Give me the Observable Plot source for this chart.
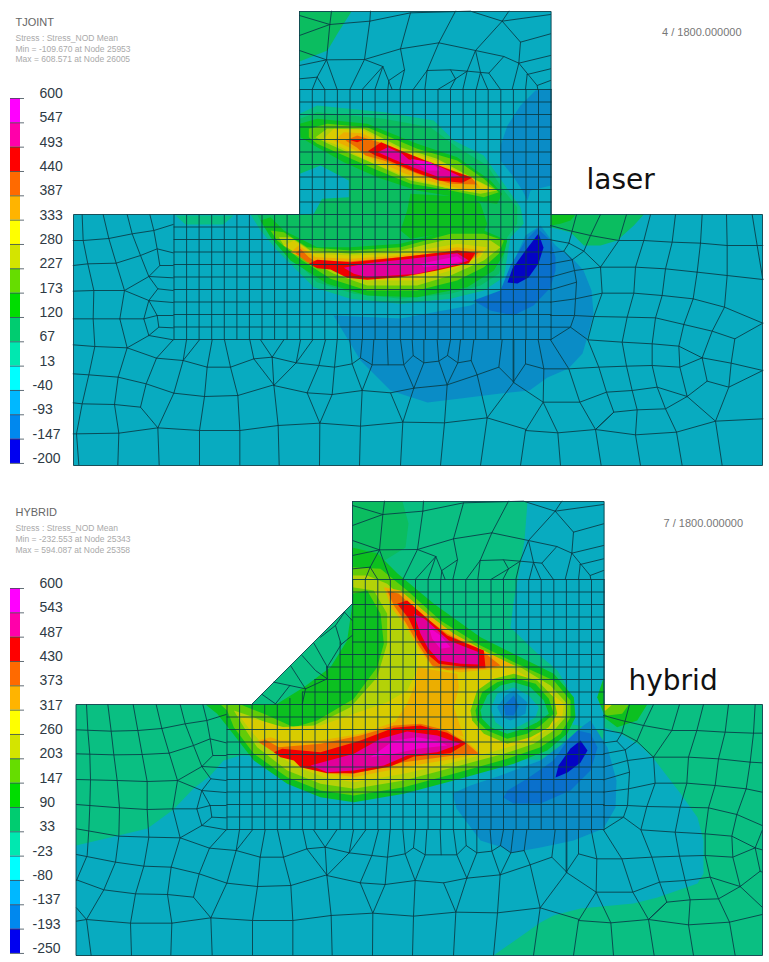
<!DOCTYPE html>
<html>
<head>
<meta charset="utf-8">
<style>html,body{margin:0;padding:0;background:#fff}svg{display:block}</style>
<script src="https://cdn.jsdelivr.net/npm/d3@7"></script>
<script src="https://cdn.jsdelivr.net/npm/@observablehq/plot@0.6"></script>
</head>
<body>
<div id="chart"></div>
<script>
// ---- readings (picture units; crops are read at 3x from a known corner) ----
const z = (ox, oy) => pts => pts.map(([a, b]) => [ox + a / 3, oy + b / 3]);
const z2 = z(0, 240), z3 = z(250, 90), z5 = z(0, 730), z6 = z(220, 570), z7 = z(270, 0), z9 = z(500, 200), z10 = z(260, 330), z11 = z(540, 690);

const laserScale = [600,547,493,440,387,333,280,227,173,120,67,13,-40,-93,-147,-200];
const hybridScale = [600,543,487,430,373,317,260,203,147,90,33,-23,-80,-137,-193,-250];
const legendColors = ["#ff00ff","#ff00aa","#ff0000","#ff6a00","#ffb400","#ffff00","#d4e400","#66dd00","#00dd00","#00cc70","#00e8b0","#00ffff","#00b8ff","#0088ee","#0000f0"];
const fieldColors = ["#0404c4","#0a70cc","#0a8cc6","#08abc0","#0abf82","#0bbd60","#0cc020","#62cc08","#b4d208","#d8cc00","#ecae00","#ee6c00","#f00000","#e2009a","#f000c8"];

const gridX = [173.5,186.1,198.6,211.2,223.8,236.4,248.9,261.5,274.1,286.6,299.2,311.8,324.3,336.9,349.5,362,374.6,387.2,399.8,412.3,424.9,437.5,450,462.6,475.2,487.7,500.3,512.9,525.5,538,550.6];
const gridY = [89,101.5,114,126.5,139,151.5,164,176.5,189,201.5,214,226.5,239,251.5,264,276.5,289,301.5,314,326.5,339];
const hybridColumnTop = [704,704,704,704,704,698,691.5,679,666.5,641.5];
const hybridRowLeft = {641.5:352,654:339.6,666.5:327,679:314.4,691.5:302};

const laserOutline = [[299,11],[550.6,11],[550.6,214],[762,214],[762,465],[73,465],[73,214],[299,214]];
const hybridOutline = [[352,501],[603.6,501],[603.6,704],[762,704],[762,955],[75.5,955],[75.5,704],[251,704],[352,603]];

const stemMesh = [[[87,45],[178,72],[183,32]],[[87,105],[178,72]],[[178,72],[298,62],[420,37],[600,32],[695,62],[840,42]],[[298,62],[300,32]],[[298,62],[282,177]],[[420,37],[390,145]],[[555,32],[505,127]],[[695,62],[715,32]],[[695,62],[615,150]],[[695,62],[750,125],[840,100]],[[750,125],[745,188],[840,165]],[[87,150],[168,178],[178,72]],[[87,195],[168,178],[282,177],[390,145],[505,127],[615,150],[700,168],[745,188]],[[168,178],[140,230],[125,267]],[[168,178],[200,267]],[[140,230],[87,235]],[[140,230],[163,267]],[[282,177],[238,267]],[[282,177],[337,198],[275,267]],[[337,198],[365,267]],[[337,198],[313,267]],[[390,145],[402,208],[355,240],[352,267]],[[402,208],[388,267]],[[505,127],[470,210],[428,267]],[[470,210],[463,267]],[[470,210],[540,208],[590,212],[655,218],[700,168]],[[540,208],[555,235],[502,267]],[[555,235],[538,267]],[[555,235],[590,212],[615,150]],[[590,212],[577,267]],[[615,150],[630,216],[617,267]],[[630,216],[652,267]],[[655,218],[690,267]],[[745,188],[725,267]],[[745,188],[800,255],[802,267]],[[770,222],[765,267]],[[770,222],[840,205]],[[800,255],[840,240]]].map(z7);

const coreLeftMesh = [[[308,-78],[325,-6],[347,68],[372,150],[358,235],[380,322],[353,410],[342,492],[355,578],[352,673]],[[380,-78],[395,-20],[420,45],[445,108],[472,145],[518,150]],[[448,-78],[460,-30],[470,25],[478,75],[518,75]],[[518,-48],[460,-30],[395,-20],[325,-6]],[[347,68],[420,45],[470,25],[518,37]],[[372,150],[445,108],[478,75]],[[445,108],[518,112]],[[372,150],[445,180],[518,186]],[[472,145],[445,180],[430,235],[445,285],[380,322]],[[430,235],[470,225],[445,180]],[[470,225],[518,225]],[[470,225],[475,260],[445,285]],[[475,260],[518,262]],[[445,285],[518,298]],[[358,235],[430,235]],[[380,322],[468,353],[548,360],[620,380],[690,380],[760,355],[815,350]],[[468,353],[518,298]],[[548,360],[558,298]],[[548,360],[597,298]],[[620,380],[635,298]],[[690,380],[672,298]],[[760,355],[748,298]],[[353,410],[437,430],[520,458],[612,468],[712,465],[820,433]],[[468,353],[437,430],[420,500],[472,562]],[[342,492],[420,500]],[[520,458],[548,360]],[[520,458],[472,562]],[[612,468],[620,380]],[[690,380],[712,465]],[[760,355],[820,433]],[[355,578],[472,562],[597,570],[718,570],[833,555]],[[612,468],[597,570],[597,673]],[[712,465],[718,570],[718,673]],[[820,433],[833,555],[836,673]],[[472,562],[476,673]]].map(z2);

const coreBottomMesh = [[[35,80],[107,97],[175,105],[222,110],[275,100],[300,82],[335,103],[383,103],[430,103],[458,75],[490,97],[535,92],[561,75],[592,97],[632,90],[650,133]],[[35,80],[40,165]],[[35,80],[70,28]],[[35,80],[0,28]],[[107,97],[120,28]],[[107,97],[157,28]],[[107,97],[40,165]],[[140,187],[175,105],[195,28]],[[215,192],[222,110],[230,28]],[[305,180],[275,100],[268,28]],[[305,180],[335,103],[340,28]],[[300,82],[305,28]],[[383,103],[380,28]],[[460,173],[430,103],[420,28]],[[460,173],[490,97],[490,28]],[[458,75],[455,28]],[[560,163],[535,92],[530,28]],[[561,75],[570,28]],[[560,163],[592,97],[600,28]],[[632,90],[640,28]],[[715,110],[725,28]],[[760,155],[760,28]],[[40,165],[140,187],[215,192],[305,180],[390,187],[460,173],[560,163],[650,133],[715,110],[760,155],[680,262]],[[650,133],[680,262]],[[140,187],[178,278],[215,192]],[[390,187],[427,275],[460,173]],[[305,180],[300,287],[297,405]],[[178,278],[177,405]],[[427,275],[420,405]],[[52,285],[178,278],[300,287],[427,275],[552,277],[680,262],[797,297]],[[560,163],[552,277],[540,405]],[[680,262],[660,405]]].map(z10);

const coreRightMesh = [[[150,75],[205,90],[270,105],[355,120],[430,120],[515,125],[600,128]],[[228,42],[205,128],[190,152],[215,178],[250,152],[205,128]],[[300,42],[270,105],[250,152],[300,200]],[[378,42],[355,120],[300,200]],[[300,200],[405,200],[495,205],[590,215]],[[150,118],[205,128]],[[150,157],[190,152]],[[150,190],[215,178]],[[150,230],[222,210],[300,200]],[[150,268],[228,245]],[[150,305],[225,295],[305,278],[400,278],[485,285],[578,295]],[[215,178],[222,210],[228,245],[225,295],[222,345],[210,380],[150,418]],[[150,345],[222,345],[280,348],[380,350],[465,352],[550,372]],[[150,380],[210,380],[262,418],[365,425],[455,430],[535,437],[605,472]],[[300,200],[305,278],[280,348],[262,418],[295,500],[318,575],[340,635],[285,687]],[[150,418],[205,505],[238,605],[285,687]],[[450,42],[430,120],[405,200],[400,278],[380,350],[365,425],[378,497],[395,570],[410,628],[405,703],[420,795]],[[525,42],[515,125],[495,205],[485,285],[465,352],[455,430],[455,495],[470,560],[495,625],[528,695],[545,795]],[[605,42],[600,128],[590,215],[578,295],[550,372],[535,437],[538,500],[560,588]],[[113,418],[130,505],[128,605],[75,690],[60,795]],[[75,418],[75,490],[38,545],[38,418]],[[75,490],[130,505],[205,505],[295,500],[378,497],[455,495],[538,500],[605,472]],[[38,545],[128,605],[238,605],[318,575],[395,570],[470,560],[560,588]],[[128,605],[172,697],[180,795]],[[75,690],[172,697],[285,687],[405,703],[528,695]],[[285,687],[302,795]],[[285,687],[340,635],[410,628],[495,625],[560,588]],[[605,472],[620,542],[560,588]]].map(z9);

const laserRightMesh = [[[600,128],[680,135],[787,135]],[[590,215],[680,225],[787,237]],[[578,295],[672,320],[787,368]],[[550,372],[635,392],[703,415],[787,368]],[[605,472],[692,488],[787,510]],[[678,42],[680,135],[680,225],[672,320],[635,392],[605,472]],[[755,42],[770,135],[787,237]],[[703,415],[692,488],[685,560],[645,662],[665,795]],[[620,542],[685,560],[787,510]],[[560,588],[645,662]],[[528,695],[645,662],[787,655]]].map(z9);
const hybridRightMesh = [[[639,128],[665,128]],[[629,215],[665,217]],[[617,295],[665,305]],[[589,372],[665,405]],[[644,472],[665,478]],[[659,542],[665,545]],[[599,588],[665,650]],[[567,695],[665,672]],[[665,420],[644,472]]].map(z11);

const laserLeftMesh = [[[245,-77],[248,0],[262,70],[280,150],[278,235],[283,318],[265,403],[245,490],[228,580],[235,673]],[[325,-6],[248,0],[218,0]],[[347,68],[262,70],[218,75]],[[372,150],[280,150],[218,152]],[[358,235],[278,235],[218,235]],[[380,322],[283,318],[218,313]],[[353,410],[265,403],[218,400]],[[342,492],[245,490],[218,487]],[[355,578],[228,580],[218,580]]].map(z2);
const hybridLeftMesh = [[[258,-78],[262,0],[268,72],[270,147],[268,225],[265,297],[260,375],[228,450]],[[322,-78],[332,2],[340,73],[350,150],[357,232],[355,317],[345,395],[310,478],[258,567],[272,675]],[[398,-78],[412,0],[425,72],[440,153],[440,237],[445,320],[430,407],[405,490],[390,578],[393,675]],[[484,-6],[412,0],[332,2],[228,-2]],[[506,68],[425,72],[340,73],[228,70]],[[531,150],[440,153],[350,150],[228,147]],[[517,235],[440,237],[357,232],[228,222]],[[539,322],[445,320],[355,317],[228,295]],[[512,410],[430,407],[345,395],[228,372]],[[501,492],[405,490],[310,478],[228,448]],[[514,578],[390,578],[258,567],[228,572]],[[228,532],[258,567]]].map(z5);
const hybridChamferMesh = [[[372,125],[345,165],[362,222],[320,290]],[[395,150],[372,125]],[[395,195],[362,222]],[[280,218],[318,285],[320,325],[255,355],[208,345],[165,400]],[[245,255],[285,300],[320,325]],[[210,285],[255,355]],[[160,335],[208,345]],[[125,372],[165,400]],[[345,165],[300,200]],[[255,355],[245,402]]].map(z6);

const shift = ([x, y]) => [x + 53, y + 490];

// ---- contour bands: [band, outline], painted in order ----
const laserBands = [
  [3, laserOutline],
  [5, [[299,11],[351,11],[337,33],[327,50],[299,61]]],
  [4, [[175,215],[233,215],[223,224],[185,224]]],
  [2, [[550.6,88],[535,90],[520,105],[507,125],[500,145],[500,160],[512,175],[522,190],[527,200],[530,190],[550.6,185]]],
  [2, [[333,315],[345,335],[360,360],[390,390],[427,402],[460,398],[500,393],[529,390],[547,377],[568,368],[582,353],[588,333],[593,313],[591,290],[583,270],[572,258],[555,245],[540,225],[525,235],[500,290],[470,305],[400,318]]],
  [1, [[537,228],[550,240],[555,257],[555,270],[550,287],[533,305],[513,315],[490,310],[473,300],[500,290],[510,265],[525,240]]],
  [5, z(500,200)([[150,42],[430,42],[400,75],[350,120],[300,135],[250,135],[210,95],[150,80]])],
  [6, z(500,200)([[150,42],[225,42],[210,60],[180,70],[150,75]])],
  [4, z3([[148,70],[200,45],[400,65],[550,90],[610,150],[700,195],[760,280],[810,350],[820,400],[780,440],[770,500],[760,560],[700,600],[600,625],[450,640],[300,625],[190,590],[80,480],[30,420],[0,372],[148,372]])],
  [5, z3([[148,85],[200,65],[400,85],[540,110],[620,170],[710,225],[760,300],[800,350],[800,400],[770,440],[760,500],[745,550],[690,585],[600,610],[450,625],[310,610],[200,575],[95,470],[40,410],[20,372],[148,372]])],
  [3, z3([[148,250],[210,225],[295,270],[295,320],[215,325],[190,370],[148,372]])],
  [6, z3([[148,100],[200,85],[350,100],[500,160],[620,200],[720,270],[755,310],[740,340],[700,335],[620,320],[500,300],[380,260],[280,215],[200,170],[150,140]])],
  [6, z3([[480,310],[660,320],[690,340],[710,400],[700,425],[600,425],[480,445],[450,420],[470,360]])],
  [6, z3([[30,390],[60,380],[100,420],[200,470],[300,470],[450,460],[600,420],[700,420],[770,450],[760,490],[730,540],[650,590],[500,620],[350,615],[230,580],[120,510],[60,440]])],
  [7, z3([[175,115],[230,100],[350,110],[500,175],[620,210],[700,265],[745,305],[700,320],[600,300],[480,280],[370,235],[280,195],[200,160],[175,140]])],
  [7, z3([[60,420],[100,425],[170,470],[300,480],[450,470],[600,430],[700,430],[760,450],[745,490],[700,530],[620,570],[500,600],[350,600],[240,565],[140,500],[80,450]])],
  [8, z3([[195,140],[230,115],[340,115],[450,170],[560,205],[680,270],[740,300],[690,310],[600,295],[480,270],[370,220],[290,185],[230,158]])],
  [8, z3([[85,440],[120,440],[180,480],[300,490],[450,480],[600,445],[720,450],[750,470],[700,510],[600,555],[500,585],[350,585],[250,550],[150,495],[100,465]])],
  [9, z3([[215,148],[250,115],[335,118],[455,178],[565,212],[675,270],[730,298],[660,303],[585,292],[475,262],[365,217],[295,182],[250,160]])],
  [9, z3([[100,465],[130,450],[190,490],[300,495],[450,490],[620,460],[710,470],[690,500],[600,540],[500,570],[350,570],[260,535],[160,500]])],
  [10, z3([[250,150],[280,125],[335,128],[455,187],[565,222],[665,260],[690,292],[640,297],[565,280],[465,250],[365,205],[305,175]])],
  [10, z3([[120,485],[145,465],[195,500],[300,505],[450,495],[620,470],[700,480],[680,500],[600,525],[500,555],[350,560],[270,525],[170,510]])],
  [11, z3([[285,150],[320,135],[385,155],[480,200],[570,230],[660,258],[680,282],[600,280],[500,250],[400,210],[345,195],[320,172]])],
  [11, z3([[135,488],[150,475],[175,500],[190,510],[300,512],[450,500],[620,480],[685,485],[660,510],[600,525],[500,550],[350,565],[270,535],[170,515]])],
  [12, z3([[295,148],[340,148],[320,155]])],
  [12, z3([[352,182],[392,155],[450,180],[525,210],[605,240],[665,262],[635,277],[565,270],[495,245],[415,210],[375,195]])],
  [12, z3([[175,520],[200,508],[300,515],[450,500],[620,480],[675,487],[655,518],[560,540],[450,560],[350,568],[290,562],[240,537],[200,533]])],
  [13, z3([[382,185],[412,170],[455,190],[475,207],[535,215],[575,232],[630,258],[570,262],[490,232],[425,205]])],
  [13, z3([[280,532],[350,518],[480,505],[620,488],[655,510],[610,525],[500,550],[350,560],[310,550]])],
  [14, z3([[480,205],[540,215],[570,240],[530,240]])],
  [14, z3([[510,520],[620,497],[640,512],[590,522],[520,530]])],
  [0, [[538,233],[543,247],[538,263],[528,277],[517,283],[507,282],[512,268],[525,250]]]
];

const hybridBands = [
  [4, hybridOutline],
  [5, [[352,501],[402,501],[408,523],[405,547],[352,580]]],
  [3, [[75.5,845],[118,835],[147,828],[173,809],[193,788],[210,775],[223,760],[240,755],[600,760],[603.6,727],[620,733],[640,745],[653,758],[680,793],[697,817],[703,840],[703,873],[697,883],[657,897],[633,903],[580,908],[553,915],[540,922],[493,955],[75.5,955]]],
  [3, [[527,501],[603.6,501],[603.6,730],[567,723],[570,710],[567,687],[557,670],[537,653],[510,627],[513,603],[517,580],[524,540]]],
  [2, [[452,793],[456,808],[465,820],[480,840],[502,847],[510,852],[523,850],[540,847],[573,840],[603,828],[615,807],[616,780],[607,747],[590,720],[583,725],[560,745],[540,760],[500,775],[470,785]]],
  [1, [[503,797],[513,803],[540,803],[570,790],[590,770],[597,747],[590,733],[577,730],[567,740],[553,760],[527,778],[507,790]]],
  [6, z11([[190,42],[320,42],[290,90],[230,110],[190,80]])],
  [7, z11([[190,42],[265,42],[245,70],[200,75],[190,70]])],
  [9, z11([[190,42],[215,42],[195,60],[190,60]])],
  [6, z6([[1150,320],[1130,380],[1150,430]])],
  [6, z6([[395,-69],[471,-51],[531,9],[640,100],[780,200],[900,260],[1000,310],[1060,380],[1065,440],[1040,490],[980,540],[880,580],[700,630],[550,670],[400,695],[300,680],[200,640],[100,570],[30,480],[-10,430],[-45,402],[130,402],[170,400],[250,350],[330,290],[380,210],[395,105]])],
  [7, z6([[395,-10],[480,-5],[560,60],[660,150],[780,225],[890,280],[1000,330],[1050,390],[1050,440],[1020,490],[960,530],[860,565],[700,610],[550,650],[400,675],[300,660],[200,620],[100,550],[40,470],[20,420],[0,402],[60,402],[130,430],[220,470],[290,450],[400,385],[470,290],[490,220],[480,130],[440,60],[395,70]])],
  [8, z6([[395,15],[440,15],[500,40],[590,120],[680,190],[790,255],[900,290],[990,345],[1040,400],[1035,440],[1000,480],[940,520],[850,550],[700,590],[550,630],[400,655],[300,640],[200,600],[110,530],[70,470],[40,420],[100,440],[170,470],[280,465],[390,410],[470,320],[500,220],[500,130],[460,60],[395,50]])],
  [9, z6([[500,70],[570,130],[650,200],[760,270],[880,295],[970,350],[1030,400],[1025,440],[990,470],[930,510],[830,540],[700,575],[550,610],[400,635],[310,620],[220,585],[130,525],[90,480],[60,440],[120,450],[190,470],[300,465],[400,430],[500,395],[560,360],[590,300],[590,210],[540,130]])],
  [10, z6([[590,290],[710,310],[715,350],[700,410],[730,500],[600,450],[520,460],[560,400],[585,340]])],
  [10, z6([[490,50],[540,60],[620,130],[700,190],[800,245],[880,285],[830,295],[720,305],[640,295],[595,235],[555,165],[515,115]])],
  [10, z6([[110,510],[150,500],[180,510],[300,510],[420,490],[520,455],[600,445],[680,470],[735,510],[780,548],[700,565],[550,590],[400,620],[310,605],[220,565],[150,530]])],
  [11, z6([[500,60],[535,70],[600,130],[680,190],[790,245],[840,285],[790,295],[680,298],[635,285],[595,225],[555,155],[520,105]])],
  [11, z6([[115,515],[135,508],[175,530],[300,520],[420,495],[520,465],[600,460],[680,480],[740,520],[775,550],[700,555],[550,575],[400,610],[310,602],[230,565],[160,545]])],
  [12, z6([[530,100],[560,90],[610,135],[680,195],[790,240],[795,292],[750,292],[655,280],[622,252],[592,205],[565,145]])],
  [12, z6([[160,545],[185,535],[300,545],[420,510],[520,472],[600,465],[680,487],[738,518],[690,548],[580,558],[510,588],[400,608],[320,608],[240,590],[220,570],[180,560]])],
  [13, z6([[580,130],[612,145],[685,210],[775,245],[775,282],[720,280],[655,270],[622,232],[600,190]])],
  [13, z6([[270,585],[400,550],[480,505],[560,483],[650,495],[720,520],[650,545],[560,555],[490,585],[400,600],[320,605]])],
  [14, z6([[625,170],[660,195],[690,230],[660,235],[635,205]])],
  [14, z6([[450,560],[520,510],[590,500],[650,510],[680,525],[590,535],[520,550]])],
  [7, z6([[750,420],[770,360],[820,325],[880,310],[950,330],[1000,380],[1010,430],[985,470],[930,500],[860,520],[790,490],[755,450]])],
  [6, z6([[765,420],[785,365],[830,335],[880,322],[945,340],[985,385],[1000,430],[960,465],[920,490],[860,505],[800,480],[770,450]])],
  [4, z6([[780,420],[800,375],[840,345],[880,335],[930,350],[970,390],[985,430],[950,455],[910,475],[860,490],[810,470],[785,445]])],
  [3, z6([[810,415],[830,370],[880,350],[925,375],[955,410],[945,440],[900,465],[860,480],[825,455]])],
  [2, z6([[830,410],[855,375],[880,360],[920,395],[915,430],[870,450],[845,440]])],
  [1, z6([[850,405],[880,375],[895,405],[880,435],[855,435]])],
  [0, [[580,740],[587,750],[580,762],[567,772],[555,777],[558,765],[570,748]]]
];

// ---- text ----
const headings = [{x:15,y:22,text:"TJOINT"},{x:15,y:512,text:"HYBRID"}];
const notes = [
  {x:15,y:38,text:"Stress : Stress_NOD Mean"},{x:15,y:48.5,text:"Min = -109.670 at Node 25953"},{x:15,y:59,text:"Max = 608.571 at Node 26005"},
  {x:15,y:528,text:"Stress : Stress_NOD Mean"},{x:15,y:539,text:"Min = -232.553 at Node 25343"},{x:15,y:550,text:"Max = 594.087 at Node 25358"}
];
const frames = [{x:661.5,y:32,text:"4 / 1800.000000"},{x:663,y:522.5,text:"7 / 1800.000000"}];
const tags = [{x:586,y:179.5,text:"laser"},{x:628,y:680.5,text:"hybrid"}];

// ---- tables for the marks ----
const polyRows = (polys) => polys.flatMap((pts, i) => pts.map(([x, y]) => ({id: i, x, y})));

const laserGrid = [
  ...gridX.map(x => [[x, x < 299 ? 214 : 89], [x, 339]]),
  ...gridY.map(y => [[y < 214 ? 299.2 : 173.5, y], [550.6, y]])
];
const hybridGrid = [
  ...gridX.map((x, i) => [[x + 53, i < hybridColumnTop.length ? hybridColumnTop[i] : 579], [x + 53, 829]]),
  ...gridY.map(y => [[hybridRowLeft[y + 490] ?? (y < 214 ? 352.2 : 226.5), y + 490], [603.6, y + 490]])
];
const sharedMesh = [...stemMesh, ...coreLeftMesh, ...coreBottomMesh, ...coreRightMesh];
const meshLines = [
  ...laserGrid, ...sharedMesh, ...laserRightMesh, ...laserLeftMesh,
  ...hybridGrid, ...sharedMesh.map(l => l.map(shift)), ...hybridRightMesh, ...hybridLeftMesh, ...hybridChamferMesh,
  [...laserOutline, laserOutline[0]], [...hybridOutline, hybridOutline[0]]
];
const meshRows = polyRows(meshLines);
const fieldRows = [...laserBands, ...hybridBands].flatMap(([band, pts], i) => pts.map(([x, y]) => ({id: i, band, x, y})));

const legendTop = [98, 588];
const legendStep = 24.33;
const legendRows = legendTop.flatMap(top => legendColors.map((c, i) => ({band: 100 + i, y1: top + i * legendStep, y2: top + (i + 1) * legendStep})));
const tickRows = legendTop.flatMap(top => laserScale.map((_, i) => ({y: top + i * legendStep})));
const labelRows = [[laserScale, 93], [hybridScale, 583]].flatMap(([vals, top]) => vals.map((v, i) => ({v, y: top + i * legendStep})));

const chart = Plot.plot({
  width: 769, height: 962, margin: 0,
  x: {axis: null, domain: [0, 769], range: [0, 769]},
  y: {axis: null, domain: [0, 962], range: [0, 962]},
  color: {type: "ordinal", domain: [...fieldColors.map((_, i) => i), ...legendColors.map((_, i) => 100 + i)], range: [...fieldColors, ...legendColors]},
  style: {background: "#fff", fontFamily: "Liberation Sans"},
  marks: [
    Plot.line(fieldRows, {x: "x", y: "y", z: "id", fill: "band", curve: "linear-closed", imageFilter: "blur(0.7px)"}),
    Plot.line(meshRows, {x: "x", y: "y", z: "id", stroke: "#0a3c48", strokeWidth: 1, strokeOpacity: 0.88, imageFilter: "blur(0.25px)"}),
    Plot.rect(legendRows, {x1: () => 10, x2: () => 20, y1: "y1", y2: "y2", fill: "band"}),
    Plot.ruleY(tickRows, {y: "y", x1: () => 10, x2: () => 24, stroke: "#3b4a55", strokeWidth: 0.8}),
    Plot.text(labelRows, {x: d => d.v < 0 ? 32 : 39, y: "y", text: d => String(d.v), textAnchor: "start", fontSize: 14, fill: "#2e3a44"}),
    Plot.text(headings, {x: "x", y: "y", text: "text", textAnchor: "start", fontSize: 11, fill: "#666"}),
    Plot.text(notes, {x: "x", y: "y", text: "text", textAnchor: "start", fontSize: 8.5, fill: "#aaa"}),
    Plot.text(frames, {x: "x", y: "y", text: "text", textAnchor: "start", fontSize: 11, fill: "#777"}),
    Plot.text(tags, {x: "x", y: "y", text: "text", textAnchor: "start", fontSize: 28, fontFamily: "DejaVu Sans", fill: "#111"})
  ]
});
document.getElementById("chart").appendChild(chart);
</script>
</body>
</html>
